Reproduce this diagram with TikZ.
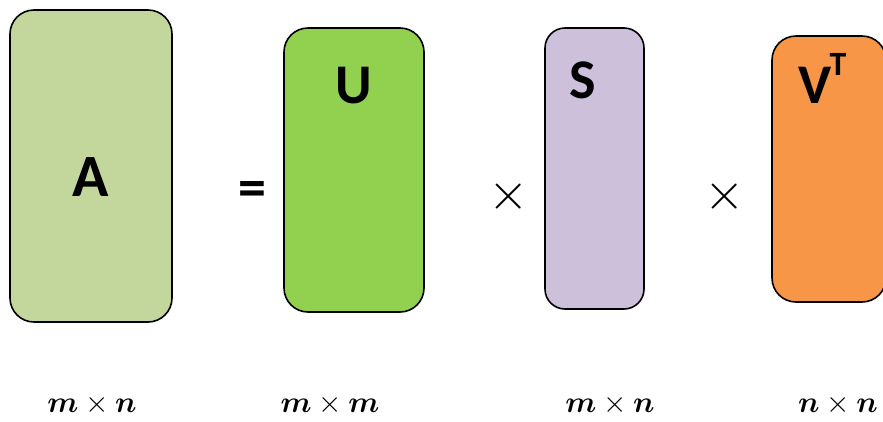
\documentclass[tikz,border=0pt]{standalone}
\usepackage{amsmath}
\usepackage{bm}
\usepackage{fontspec}
\newfontfamily\carlito{Carlito}
\definecolor{cA}{HTML}{C3D69B}
\definecolor{cU}{HTML}{92D050}
\definecolor{cS}{HTML}{CCC0DA}
\definecolor{cV}{HTML}{F79646}
\newcommand{\dimtext}[1]{\scalebox{1.45}{\fontsize{20}{24}\selectfont$#1$}}
\newcommand{\timessign}{\scalebox{2.5}{\fontsize{20}{24}\selectfont$\times$}}
\tikzset{
  matbox/.style={draw=black, line width=1.6pt, rounded corners=24pt},
  bigletter/.style={inner sep=0pt, font=\carlito\bfseries\fontsize{56}{60}\selectfont},
  opsign/.style={inner sep=0pt},
  dimlabel/.style={inner sep=0pt}
}
\begin{document}
\begin{tikzpicture}[x=1pt,y=-1pt]
\useasboundingbox (0,0) rectangle (883,421);
\clip (0,0) rectangle (883,421);
\fill[white] (0,0) rectangle (883,421);
% boxes
\draw[matbox, fill=cA] (10,10) rectangle (172,322);
\draw[matbox, fill=cU] (284,28) rectangle (424,312);
\draw[matbox, fill=cS, rounded corners=20pt] (545,28) rectangle (644,309);
\draw[matbox, fill=cV] (772,36) rectangle (886,302);
% letters
\node[bigletter, font=\carlito\bfseries\fontsize{60}{64}\selectfont] (A) at (91,177) {A};
\node[bigletter] (U) at (354,86) {U};
\node[bigletter] (S) at (583,80) {S};
\node[bigletter] (V) at (815,85) {V};
\node[inner sep=0pt, font=\carlito\bfseries\fontsize{34}{38}\selectfont] (T) at (838,64) {T};
% operators
\node[inner sep=0pt, font=\carlito\bfseries\fontsize{56}{60}\selectfont] (eq) at (252,194) {=};
\node[opsign] (x1) at (509,197) {\timessign};
\node[opsign] (x2) at (725,197) {\timessign};
% dimension labels
\node[dimlabel] (dA) at (92,405) {\dimtext{\bm{m}\times\bm{n}}};
\node[dimlabel] (dU) at (330,405) {\dimtext{\bm{m}\times\bm{m}}};
\node[dimlabel] (dS) at (610,405) {\dimtext{\bm{m}\times\bm{n}}};
\node[dimlabel] (dV) at (838,405) {\dimtext{\bm{n}\times\bm{n}}};
\end{tikzpicture}
\end{document}
